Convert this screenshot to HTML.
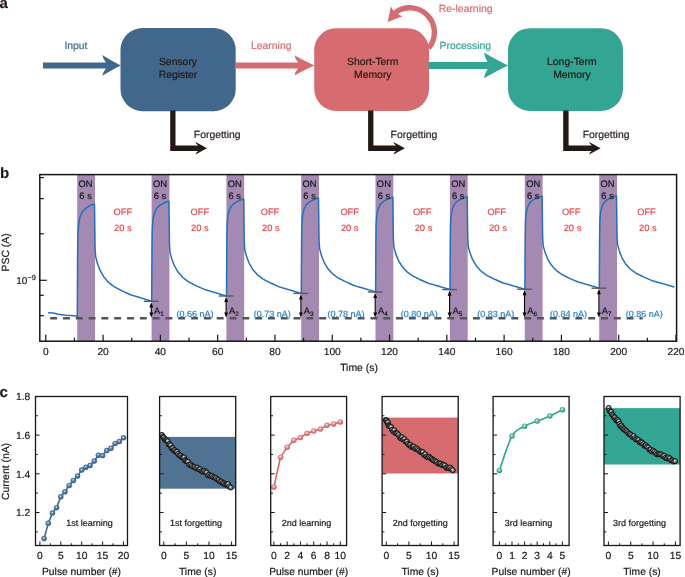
<!DOCTYPE html>
<html><head><meta charset="utf-8"><style>
html,body{margin:0;padding:0;background:#fff;width:685px;height:577px;overflow:hidden}
svg{display:block;will-change:transform}
text{font-family:"Liberation Sans", sans-serif;text-rendering:geometricPrecision;stroke-width:0.18px}
</style></head><body>
<svg width="685" height="577" viewBox="0 0 685 577">
<defs><radialGradient id="gb" cx="0.45" cy="0.4" r="0.6"><stop offset="0" stop-color="#ffffff"/><stop offset="0.35" stop-color="#5a84ae"/><stop offset="1" stop-color="#2a5580"/></radialGradient><radialGradient id="gp" cx="0.45" cy="0.4" r="0.6"><stop offset="0" stop-color="#ffffff"/><stop offset="0.35" stop-color="#e9999c"/><stop offset="1" stop-color="#c4545a"/></radialGradient><radialGradient id="gt" cx="0.45" cy="0.4" r="0.6"><stop offset="0" stop-color="#ffffff"/><stop offset="0.35" stop-color="#6cc6b5"/><stop offset="1" stop-color="#1f8a77"/></radialGradient><radialGradient id="gg" cx="0.45" cy="0.4" r="0.6"><stop offset="0" stop-color="#f4f4f4"/><stop offset="0.35" stop-color="#959595"/><stop offset="1" stop-color="#333333"/></radialGradient></defs>
<text x="-0.60" y="8.20" font-size="15" fill="#231815" stroke="#231815" text-anchor="start" font-weight="bold" >a</text>
<path d="M43.00,62.40 L105.90,62.40 Q103.42,59.68 102.30,55.00 Q113.03,61.66 120.80,65.40 Q113.03,69.14 102.30,75.80 Q103.42,71.12 105.90,68.40 L43.00,68.40 Z" fill="#41678c"/>
<text x="64.40" y="48.80" font-size="10.4" fill="#41678c" stroke="#41678c" text-anchor="start" font-weight="normal" >Input</text>
<rect x="120.5" y="28.0" width="115.19999999999999" height="83.2" rx="22" ry="22" fill="#41678c"/>
<text x="178.00" y="65.40" font-size="10.4" fill="#231815" stroke="#231815" text-anchor="middle" font-weight="normal" >Sensory</text>
<text x="178.00" y="77.90" font-size="10.4" fill="#231815" stroke="#231815" text-anchor="middle" font-weight="normal" >Register</text>
<rect x="314.2" y="28.2" width="114.80000000000001" height="82.7" rx="22" ry="22" fill="#d76c70"/>
<text x="372.80" y="65.40" font-size="10.4" fill="#231815" stroke="#231815" text-anchor="middle" font-weight="normal" >Short-Term</text>
<text x="372.80" y="77.90" font-size="10.4" fill="#231815" stroke="#231815" text-anchor="middle" font-weight="normal" >Memory</text>
<rect x="508.0" y="28.2" width="115.0" height="82.8" rx="22" ry="22" fill="#33a593"/>
<text x="571.90" y="65.40" font-size="10.4" fill="#231815" stroke="#231815" text-anchor="middle" font-weight="normal" >Long-Term</text>
<text x="571.90" y="77.90" font-size="10.4" fill="#231815" stroke="#231815" text-anchor="middle" font-weight="normal" >Memory</text>
<path d="M235.00,62.40 L298.00,62.40 Q295.52,59.85 294.40,55.30 Q306.00,61.76 314.40,65.40 Q306.00,69.04 294.40,75.50 Q295.52,70.96 298.00,68.40 L235.00,68.40 Z" fill="#d76c70"/>
<text x="251.00" y="49.00" font-size="10.4" fill="#d76c70" stroke="#d76c70" text-anchor="start" font-weight="normal" >Learning</text>
<path d="M428.50,62.00 L487.58,62.00 Q485.05,58.36 483.90,52.55 Q497.99,60.81 508.20,65.45 Q497.99,70.09 483.90,78.35 Q485.05,72.55 487.58,68.90 L428.50,68.90 Z" fill="#33a593"/>
<text x="439.60" y="49.00" font-size="10.4" fill="#33a593" stroke="#33a593" text-anchor="start" font-weight="normal" >Processing</text>
<path d="M428.64,48.11 A24.6,24.6 0 0 0 395.34,12.40" fill="none" stroke="#d76c70" stroke-width="5.4"/>
<path d="M387.7,21.9 L390.9,6.4 Q392.5,10 395.5,12.2 Q398.5,14.8 402.5,16.2 Z" fill="#d76c70"/>
<text x="438.80" y="11.60" font-size="10.4" fill="#d76c70" stroke="#d76c70" text-anchor="start" font-weight="normal" >Re-learning</text>
<path d="M170.2,110.5 L175.5,110.5 L175.5,145.50 L198.30,145.50 Q196.38,144.84 195.50,142.05 Q201.82,145.46 207.00,148.25 Q201.82,151.04 195.50,154.45 Q196.38,151.66 198.30,151.00 L170.2,151.00 Z" fill="#231815"/>
<text x="193.80" y="137.80" font-size="10.4" fill="#231815" stroke="#231815" text-anchor="start" font-weight="normal" >Forgetting</text>
<path d="M368.1,110.5 L373.4,110.5 L373.4,145.50 L396.20,145.50 Q394.27,144.84 393.40,142.05 Q399.72,145.46 404.90,148.25 Q399.72,151.04 393.40,154.45 Q394.27,151.66 396.20,151.00 L368.1,151.00 Z" fill="#231815"/>
<text x="390.60" y="137.80" font-size="10.4" fill="#231815" stroke="#231815" text-anchor="start" font-weight="normal" >Forgetting</text>
<path d="M563.2,110.5 L568.6,110.5 L568.6,145.50 L591.90,145.50 Q589.98,144.84 589.10,142.05 Q595.43,145.46 600.60,148.25 Q595.43,151.04 589.10,154.45 Q589.98,151.66 591.90,151.00 L563.2,151.00 Z" fill="#231815"/>
<text x="582.70" y="137.80" font-size="10.4" fill="#231815" stroke="#231815" text-anchor="start" font-weight="normal" >Forgetting</text>
<text x="0.00" y="177.60" font-size="15" fill="#231815" stroke="#231815" text-anchor="start" font-weight="bold" >b</text>
<rect x="77.20" y="174.6" width="17.8" height="166.60" fill="#a48ab3"/>
<rect x="151.60" y="174.6" width="17.8" height="166.60" fill="#a48ab3"/>
<rect x="226.40" y="174.6" width="17.8" height="166.60" fill="#a48ab3"/>
<rect x="301.20" y="174.6" width="17.8" height="166.60" fill="#a48ab3"/>
<rect x="375.50" y="174.6" width="17.8" height="166.60" fill="#a48ab3"/>
<rect x="449.90" y="174.6" width="17.8" height="166.60" fill="#a48ab3"/>
<rect x="524.80" y="174.6" width="17.8" height="166.60" fill="#a48ab3"/>
<rect x="599.20" y="174.6" width="17.8" height="166.60" fill="#a48ab3"/>
<line x1="50.2" y1="318.25" x2="642.6" y2="318.25" stroke="#555555" stroke-width="2.5" stroke-dasharray="6.9 5.91"/>
<path d="M48.20,312.80 L53.30,313.00 L58.40,314.30 L65.50,315.30 L70.70,315.60 L76.30,316.10 L77.30,316.30 L77.59,256.89 L77.87,235.37 L78.16,229.96 L78.45,226.38 L78.73,223.21 L79.02,221.86 L79.31,220.51 L79.59,219.16 L79.88,217.82 L80.16,216.86 L80.45,216.16 L80.74,215.46 L81.02,214.76 L81.31,214.06 L81.60,213.36 L81.88,212.66 L82.17,212.04 L82.46,211.73 L82.74,211.42 L83.03,211.11 L83.32,210.79 L83.60,210.48 L83.89,210.17 L84.17,209.86 L84.46,209.54 L84.75,209.23 L85.03,208.92 L85.32,208.66 L85.61,208.47 L85.89,208.28 L86.18,208.09 L86.47,207.90 L86.75,207.71 L87.04,207.52 L87.33,207.33 L87.61,207.14 L87.90,206.95 L88.19,206.76 L88.47,206.57 L88.76,206.38 L89.04,206.19 L89.33,206.04 L89.62,205.90 L89.90,205.77 L90.19,205.63 L90.48,205.50 L90.76,205.36 L91.05,205.23 L91.34,205.09 L91.62,204.96 L91.91,204.82 L92.20,204.69 L92.48,204.59 L92.77,204.49 L93.05,204.39 L93.34,204.29 L93.63,204.20 L93.91,204.10 L94.20,204.00 L94.49,203.90 L94.49,203.90 L95.06,247.81 L95.63,256.60 L96.21,258.78 L96.78,260.96 L97.35,263.08 L97.92,264.66 L98.50,266.23 L99.07,267.81 L99.64,269.38 L100.22,270.73 L100.79,271.72 L101.36,272.72 L101.93,273.72 L102.51,274.71 L103.08,275.71 L103.65,276.71 L104.23,277.40 L104.80,278.08 L105.37,278.75 L105.95,279.43 L106.52,280.11 L107.09,280.79 L107.66,281.46 L108.24,282.14 L108.81,282.61 L109.38,283.06 L109.96,283.50 L110.53,283.95 L111.10,284.40 L111.67,284.84 L112.25,285.29 L112.82,285.74 L113.39,286.18 L113.97,286.59 L114.54,286.90 L115.11,287.21 L115.68,287.52 L116.26,287.83 L116.83,288.14 L117.40,288.45 L117.98,288.76 L118.55,289.06 L119.12,289.37 L119.69,289.68 L120.27,289.99 L120.84,290.30 L121.41,290.59 L121.99,290.86 L122.56,291.12 L123.13,291.38 L123.70,291.65 L124.28,291.91 L124.85,292.17 L125.42,292.44 L126.00,292.70 L126.57,292.96 L127.14,293.23 L127.72,293.49 L128.29,293.75 L128.86,294.02 L129.43,294.28 L130.01,294.55 L130.58,294.76 L131.15,294.93 L131.73,295.10 L132.30,295.28 L132.87,295.45 L133.44,295.62 L134.02,295.79 L134.59,295.96 L135.16,296.13 L135.74,296.30 L136.31,296.47 L136.88,296.65 L137.45,296.82 L138.03,296.99 L138.60,297.16 L139.17,297.33 L139.75,297.50 L140.32,297.68 L140.89,297.86 L141.46,298.04 L142.04,298.22 L142.61,298.40 L143.18,298.58 L143.76,298.76 L144.33,298.94 L144.90,299.12 L145.48,299.30 L146.05,299.48 L146.62,299.65 L147.19,299.83 L147.77,300.01 L148.34,300.19 L148.91,300.37 L149.49,300.55 L150.06,300.73 L150.63,300.91 L151.20,301.11 L151.78,301.30 L151.70,301.30 L151.99,248.39 L152.27,229.23 L152.56,224.40 L152.85,221.22 L153.13,218.40 L153.42,217.20 L153.71,215.99 L153.99,214.79 L154.28,213.59 L154.56,212.74 L154.85,212.12 L155.14,211.49 L155.42,210.87 L155.71,210.25 L156.00,209.63 L156.28,209.01 L156.57,208.45 L156.86,208.17 L157.14,207.90 L157.43,207.62 L157.72,207.34 L158.00,207.06 L158.29,206.78 L158.57,206.51 L158.86,206.23 L159.15,205.95 L159.43,205.67 L159.72,205.44 L160.01,205.27 L160.29,205.10 L160.58,204.93 L160.87,204.76 L161.15,204.59 L161.44,204.42 L161.73,204.25 L162.01,204.08 L162.30,203.91 L162.59,203.74 L162.87,203.57 L163.16,203.41 L163.44,203.24 L163.73,203.11 L164.02,202.99 L164.30,202.86 L164.59,202.74 L164.88,202.62 L165.16,202.50 L165.45,202.38 L165.74,202.26 L166.02,202.14 L166.31,202.02 L166.60,201.90 L166.88,201.81 L167.17,201.73 L167.45,201.64 L167.74,201.55 L168.03,201.46 L168.31,201.38 L168.60,201.29 L168.89,201.20 L168.89,201.20 L169.46,243.94 L170.03,252.49 L170.61,254.62 L171.18,256.74 L171.75,258.80 L172.32,260.34 L172.90,261.87 L173.47,263.40 L174.04,264.93 L174.62,266.24 L175.19,267.21 L175.76,268.18 L176.33,269.15 L176.91,270.12 L177.48,271.09 L178.05,272.06 L178.63,272.74 L179.20,273.40 L179.77,274.06 L180.34,274.72 L180.92,275.37 L181.49,276.03 L182.06,276.69 L182.64,277.35 L183.21,277.81 L183.78,278.24 L184.36,278.68 L184.93,279.11 L185.50,279.55 L186.07,279.98 L186.65,280.42 L187.22,280.85 L187.79,281.29 L188.37,281.68 L188.94,281.98 L189.51,282.28 L190.08,282.58 L190.66,282.89 L191.23,283.19 L191.80,283.49 L192.38,283.79 L192.95,284.09 L193.52,284.39 L194.09,284.69 L194.67,285.00 L195.24,285.30 L195.81,285.58 L196.39,285.84 L196.96,286.09 L197.53,286.35 L198.10,286.61 L198.68,286.86 L199.25,287.12 L199.82,287.37 L200.40,287.63 L200.97,287.89 L201.54,288.14 L202.12,288.40 L202.69,288.66 L203.26,288.91 L203.83,289.17 L204.41,289.43 L204.98,289.64 L205.55,289.80 L206.13,289.97 L206.70,290.14 L207.27,290.30 L207.84,290.47 L208.42,290.64 L208.99,290.80 L209.56,290.97 L210.14,291.14 L210.71,291.30 L211.28,291.47 L211.85,291.64 L212.43,291.80 L213.00,291.97 L213.57,292.14 L214.15,292.30 L214.72,292.48 L215.29,292.65 L215.86,292.83 L216.44,293.00 L217.01,293.18 L217.58,293.35 L218.16,293.53 L218.73,293.70 L219.30,293.87 L219.88,294.05 L220.45,294.22 L221.02,294.40 L221.59,294.57 L222.17,294.75 L222.74,294.92 L223.31,295.10 L223.89,295.27 L224.46,295.45 L225.03,295.62 L225.60,295.81 L226.18,296.00 L226.50,296.00 L226.79,244.73 L227.07,226.16 L227.36,221.49 L227.65,218.40 L227.93,215.66 L228.22,214.50 L228.51,213.34 L228.79,212.17 L229.08,211.01 L229.36,210.18 L229.65,209.58 L229.94,208.98 L230.22,208.37 L230.51,207.77 L230.80,207.17 L231.08,206.56 L231.37,206.03 L231.66,205.76 L231.94,205.49 L232.23,205.22 L232.52,204.95 L232.80,204.68 L233.09,204.41 L233.37,204.14 L233.66,203.87 L233.95,203.60 L234.23,203.33 L234.52,203.11 L234.81,202.94 L235.09,202.78 L235.38,202.61 L235.67,202.45 L235.95,202.29 L236.24,202.12 L236.53,201.96 L236.81,201.79 L237.10,201.63 L237.39,201.46 L237.67,201.30 L237.96,201.14 L238.24,200.97 L238.53,200.85 L238.82,200.73 L239.10,200.61 L239.39,200.50 L239.68,200.38 L239.96,200.26 L240.25,200.15 L240.54,200.03 L240.82,199.91 L241.11,199.80 L241.40,199.68 L241.68,199.59 L241.97,199.51 L242.25,199.42 L242.54,199.34 L242.83,199.25 L243.11,199.17 L243.40,199.08 L243.69,199.00 L243.69,199.00 L244.26,241.56 L244.83,250.08 L245.41,252.19 L245.98,254.30 L246.55,256.36 L247.12,257.89 L247.70,259.41 L248.27,260.94 L248.84,262.46 L249.42,263.77 L249.99,264.73 L250.56,265.70 L251.13,266.67 L251.71,267.63 L252.28,268.60 L252.85,269.56 L253.43,270.24 L254.00,270.89 L254.57,271.55 L255.14,272.21 L255.72,272.86 L256.29,273.52 L256.86,274.18 L257.44,274.83 L258.01,275.29 L258.58,275.72 L259.16,276.15 L259.73,276.58 L260.30,277.02 L260.87,277.45 L261.45,277.88 L262.02,278.32 L262.59,278.75 L263.17,279.14 L263.74,279.44 L264.31,279.74 L264.88,280.04 L265.46,280.34 L266.03,280.64 L266.60,280.94 L267.18,281.24 L267.75,281.54 L268.32,281.84 L268.89,282.14 L269.47,282.44 L270.04,282.74 L270.61,283.02 L271.19,283.28 L271.76,283.53 L272.33,283.79 L272.90,284.04 L273.48,284.30 L274.05,284.56 L274.62,284.81 L275.20,285.07 L275.77,285.32 L276.34,285.58 L276.92,285.83 L277.49,286.09 L278.06,286.34 L278.63,286.60 L279.21,286.85 L279.78,287.06 L280.35,287.23 L280.93,287.40 L281.50,287.56 L282.07,287.73 L282.64,287.89 L283.22,288.06 L283.79,288.23 L284.36,288.39 L284.94,288.56 L285.51,288.72 L286.08,288.89 L286.65,289.05 L287.23,289.22 L287.80,289.39 L288.37,289.55 L288.95,289.72 L289.52,289.89 L290.09,290.07 L290.66,290.24 L291.24,290.41 L291.81,290.59 L292.38,290.76 L292.96,290.94 L293.53,291.11 L294.10,291.28 L294.68,291.46 L295.25,291.63 L295.82,291.81 L296.39,291.98 L296.97,292.15 L297.54,292.33 L298.11,292.50 L298.69,292.67 L299.26,292.85 L299.83,293.02 L300.40,293.21 L300.98,293.40 L301.30,293.40 L301.59,242.97 L301.87,224.71 L302.16,220.12 L302.45,217.08 L302.73,214.39 L303.02,213.24 L303.31,212.10 L303.59,210.96 L303.88,209.81 L304.16,209.00 L304.45,208.40 L304.74,207.81 L305.02,207.22 L305.31,206.62 L305.60,206.03 L305.88,205.44 L306.17,204.91 L306.46,204.65 L306.74,204.38 L307.03,204.12 L307.32,203.85 L307.60,203.59 L307.89,203.32 L308.17,203.06 L308.46,202.79 L308.75,202.53 L309.03,202.26 L309.32,202.04 L309.61,201.88 L309.89,201.71 L310.18,201.55 L310.47,201.39 L310.75,201.23 L311.04,201.07 L311.33,200.91 L311.61,200.75 L311.90,200.59 L312.19,200.42 L312.47,200.26 L312.76,200.10 L313.04,199.94 L313.33,199.82 L313.62,199.70 L313.90,199.59 L314.19,199.47 L314.48,199.36 L314.76,199.24 L315.05,199.13 L315.34,199.01 L315.62,198.90 L315.91,198.78 L316.20,198.67 L316.48,198.58 L316.77,198.50 L317.05,198.42 L317.34,198.33 L317.63,198.25 L317.91,198.17 L318.20,198.08 L318.49,198.00 L318.49,198.00 L319.06,240.38 L319.63,248.86 L320.21,250.97 L320.78,253.07 L321.35,255.12 L321.92,256.64 L322.50,258.16 L323.07,259.68 L323.64,261.20 L324.22,262.49 L324.79,263.45 L325.36,264.42 L325.93,265.38 L326.51,266.34 L327.08,267.30 L327.65,268.26 L328.23,268.93 L328.80,269.59 L329.37,270.24 L329.94,270.89 L330.52,271.55 L331.09,272.20 L331.66,272.86 L332.24,273.51 L332.81,273.96 L333.38,274.39 L333.96,274.83 L334.53,275.26 L335.10,275.69 L335.67,276.12 L336.25,276.55 L336.82,276.98 L337.39,277.41 L337.97,277.80 L338.54,278.10 L339.11,278.40 L339.68,278.70 L340.26,279.00 L340.83,279.30 L341.40,279.59 L341.98,279.89 L342.55,280.19 L343.12,280.49 L343.69,280.79 L344.27,281.09 L344.84,281.39 L345.41,281.67 L345.99,281.92 L346.56,282.18 L347.13,282.43 L347.70,282.68 L348.28,282.94 L348.85,283.19 L349.42,283.45 L350.00,283.70 L350.57,283.96 L351.14,284.21 L351.72,284.46 L352.29,284.72 L352.86,284.97 L353.43,285.23 L354.01,285.48 L354.58,285.69 L355.15,285.86 L355.73,286.02 L356.30,286.19 L356.87,286.35 L357.44,286.52 L358.02,286.68 L358.59,286.85 L359.16,287.01 L359.74,287.18 L360.31,287.34 L360.88,287.51 L361.45,287.67 L362.03,287.84 L362.60,288.00 L363.17,288.17 L363.75,288.33 L364.32,288.51 L364.89,288.68 L365.46,288.85 L366.04,289.03 L366.61,289.20 L367.18,289.37 L367.76,289.55 L368.33,289.72 L368.90,289.89 L369.48,290.07 L370.05,290.24 L370.62,290.41 L371.19,290.59 L371.77,290.76 L372.34,290.93 L372.91,291.10 L373.49,291.28 L374.06,291.45 L374.63,291.62 L375.20,291.81 L375.78,292.00 L375.60,292.00 L375.89,241.94 L376.17,223.82 L376.46,219.25 L376.75,216.24 L377.03,213.57 L377.32,212.43 L377.61,211.30 L377.89,210.16 L378.18,209.02 L378.46,208.22 L378.75,207.63 L379.04,207.04 L379.32,206.45 L379.61,205.86 L379.90,205.27 L380.18,204.68 L380.47,204.16 L380.76,203.90 L381.04,203.63 L381.33,203.37 L381.62,203.11 L381.90,202.85 L382.19,202.58 L382.47,202.32 L382.76,202.06 L383.05,201.79 L383.33,201.53 L383.62,201.31 L383.91,201.15 L384.19,200.99 L384.48,200.83 L384.77,200.67 L385.05,200.51 L385.34,200.35 L385.63,200.19 L385.91,200.03 L386.20,199.87 L386.49,199.71 L386.77,199.55 L387.06,199.39 L387.34,199.23 L387.63,199.10 L387.92,198.99 L388.20,198.87 L388.49,198.76 L388.78,198.65 L389.06,198.53 L389.35,198.42 L389.64,198.30 L389.92,198.19 L390.21,198.08 L390.50,197.96 L390.78,197.88 L391.07,197.80 L391.35,197.71 L391.64,197.63 L391.93,197.55 L392.21,197.47 L392.50,197.38 L392.79,197.30 L392.79,197.30 L393.36,238.91 L393.93,247.24 L394.51,249.31 L395.08,251.37 L395.65,253.38 L396.22,254.88 L396.80,256.37 L397.37,257.86 L397.94,259.35 L398.52,260.63 L399.09,261.57 L399.66,262.52 L400.23,263.46 L400.81,264.40 L401.38,265.35 L401.95,266.29 L402.53,266.95 L403.10,267.59 L403.67,268.23 L404.25,268.88 L404.82,269.52 L405.39,270.16 L405.96,270.80 L406.54,271.44 L407.11,271.89 L407.68,272.31 L408.26,272.74 L408.83,273.16 L409.40,273.58 L409.97,274.01 L410.55,274.43 L411.12,274.85 L411.69,275.27 L412.27,275.66 L412.84,275.95 L413.41,276.25 L413.98,276.54 L414.56,276.83 L415.13,277.13 L415.70,277.42 L416.28,277.71 L416.85,278.01 L417.42,278.30 L417.99,278.59 L418.57,278.89 L419.14,279.18 L419.71,279.45 L420.29,279.70 L420.86,279.95 L421.43,280.20 L422.00,280.45 L422.58,280.70 L423.15,280.95 L423.72,281.20 L424.30,281.45 L424.87,281.70 L425.44,281.95 L426.02,282.20 L426.59,282.45 L427.16,282.70 L427.73,282.95 L428.31,283.20 L428.88,283.40 L429.45,283.57 L430.03,283.73 L430.60,283.89 L431.17,284.05 L431.74,284.22 L432.32,284.38 L432.89,284.54 L433.46,284.70 L434.04,284.86 L434.61,285.03 L435.18,285.19 L435.75,285.35 L436.33,285.51 L436.90,285.68 L437.47,285.84 L438.05,286.00 L438.62,286.17 L439.19,286.34 L439.76,286.51 L440.34,286.68 L440.91,286.85 L441.48,287.02 L442.06,287.19 L442.63,287.36 L443.20,287.53 L443.78,287.70 L444.35,287.87 L444.92,288.04 L445.49,288.21 L446.07,288.38 L446.64,288.55 L447.21,288.72 L447.79,288.89 L448.36,289.06 L448.93,289.23 L449.50,289.42 L450.08,289.60 L450.00,289.60 L450.29,240.55 L450.57,222.78 L450.86,218.31 L451.15,215.36 L451.43,212.74 L451.72,211.63 L452.01,210.52 L452.29,209.40 L452.58,208.29 L452.86,207.50 L453.15,206.92 L453.44,206.34 L453.72,205.77 L454.01,205.19 L454.30,204.61 L454.58,204.04 L454.87,203.52 L455.16,203.27 L455.44,203.01 L455.73,202.75 L456.02,202.49 L456.30,202.23 L456.59,201.98 L456.87,201.72 L457.16,201.46 L457.45,201.20 L457.73,200.95 L458.02,200.73 L458.31,200.57 L458.59,200.41 L458.88,200.26 L459.17,200.10 L459.45,199.94 L459.74,199.79 L460.03,199.63 L460.31,199.47 L460.60,199.32 L460.89,199.16 L461.17,199.00 L461.46,198.84 L461.74,198.69 L462.03,198.57 L462.32,198.45 L462.60,198.34 L462.89,198.23 L463.18,198.12 L463.46,198.01 L463.75,197.90 L464.04,197.78 L464.32,197.67 L464.61,197.56 L464.90,197.45 L465.18,197.37 L465.47,197.29 L465.75,197.21 L466.04,197.12 L466.33,197.04 L466.61,196.96 L466.90,196.88 L467.19,196.80 L467.19,196.80 L467.76,238.46 L468.33,246.80 L468.91,248.86 L469.48,250.93 L470.05,252.94 L470.62,254.44 L471.20,255.93 L471.77,257.43 L472.34,258.92 L472.92,260.19 L473.49,261.14 L474.06,262.09 L474.63,263.03 L475.21,263.98 L475.78,264.92 L476.35,265.87 L476.93,266.53 L477.50,267.17 L478.07,267.81 L478.64,268.45 L479.22,269.10 L479.79,269.74 L480.36,270.38 L480.94,271.03 L481.51,271.47 L482.08,271.89 L482.66,272.32 L483.23,272.74 L483.80,273.16 L484.37,273.59 L484.95,274.01 L485.52,274.44 L486.09,274.86 L486.67,275.24 L487.24,275.54 L487.81,275.83 L488.38,276.12 L488.96,276.42 L489.53,276.71 L490.10,277.01 L490.68,277.30 L491.25,277.59 L491.82,277.89 L492.39,278.18 L492.97,278.47 L493.54,278.77 L494.11,279.04 L494.69,279.29 L495.26,279.54 L495.83,279.79 L496.40,280.04 L496.98,280.29 L497.55,280.54 L498.12,280.79 L498.70,281.04 L499.27,281.29 L499.84,281.54 L500.42,281.79 L500.99,282.04 L501.56,282.29 L502.13,282.54 L502.71,282.79 L503.28,283.00 L503.85,283.16 L504.43,283.32 L505.00,283.49 L505.57,283.65 L506.14,283.81 L506.72,283.97 L507.29,284.13 L507.86,284.30 L508.44,284.46 L509.01,284.62 L509.58,284.78 L510.15,284.95 L510.73,285.11 L511.30,285.27 L511.87,285.43 L512.45,285.60 L513.02,285.77 L513.59,285.94 L514.16,286.11 L514.74,286.28 L515.31,286.45 L515.88,286.62 L516.46,286.79 L517.03,286.96 L517.60,287.13 L518.18,287.30 L518.75,287.47 L519.32,287.64 L519.89,287.81 L520.47,287.98 L521.04,288.15 L521.61,288.32 L522.19,288.49 L522.76,288.66 L523.33,288.83 L523.90,289.02 L524.48,289.20 L524.90,289.20 L525.19,239.99 L525.47,222.17 L525.76,217.68 L526.05,214.72 L526.33,212.09 L526.62,210.98 L526.91,209.86 L527.19,208.74 L527.48,207.63 L527.76,206.83 L528.05,206.25 L528.34,205.67 L528.62,205.10 L528.91,204.52 L529.20,203.94 L529.48,203.36 L529.77,202.84 L530.06,202.59 L530.34,202.33 L530.63,202.07 L530.92,201.81 L531.20,201.55 L531.49,201.29 L531.77,201.03 L532.06,200.78 L532.35,200.52 L532.63,200.26 L532.92,200.04 L533.21,199.88 L533.49,199.73 L533.78,199.57 L534.07,199.41 L534.35,199.25 L534.64,199.10 L534.93,198.94 L535.21,198.78 L535.50,198.62 L535.79,198.47 L536.07,198.31 L536.36,198.15 L536.64,197.99 L536.93,197.87 L537.22,197.76 L537.50,197.65 L537.79,197.54 L538.08,197.42 L538.36,197.31 L538.65,197.20 L538.94,197.09 L539.22,196.98 L539.51,196.86 L539.80,196.75 L540.08,196.67 L540.37,196.59 L540.65,196.51 L540.94,196.43 L541.23,196.34 L541.51,196.26 L541.80,196.18 L542.09,196.10 L542.09,196.10 L542.66,237.62 L543.23,245.93 L543.81,247.99 L544.38,250.06 L544.95,252.06 L545.52,253.55 L546.10,255.04 L546.67,256.53 L547.24,258.02 L547.82,259.29 L548.39,260.23 L548.96,261.17 L549.53,262.12 L550.11,263.06 L550.68,264.00 L551.25,264.94 L551.83,265.60 L552.40,266.24 L552.97,266.88 L553.54,267.52 L554.12,268.16 L554.69,268.80 L555.26,269.44 L555.84,270.08 L556.41,270.53 L556.98,270.95 L557.56,271.37 L558.13,271.79 L558.70,272.22 L559.27,272.64 L559.85,273.06 L560.42,273.48 L560.99,273.91 L561.57,274.29 L562.14,274.58 L562.71,274.87 L563.28,275.17 L563.86,275.46 L564.43,275.75 L565.00,276.04 L565.58,276.34 L566.15,276.63 L566.72,276.92 L567.29,277.22 L567.87,277.51 L568.44,277.80 L569.01,278.08 L569.59,278.33 L570.16,278.57 L570.73,278.82 L571.30,279.07 L571.88,279.32 L572.45,279.57 L573.02,279.82 L573.60,280.07 L574.17,280.32 L574.74,280.57 L575.32,280.82 L575.89,281.07 L576.46,281.31 L577.03,281.56 L577.61,281.81 L578.18,282.02 L578.75,282.18 L579.33,282.34 L579.90,282.50 L580.47,282.67 L581.04,282.83 L581.62,282.99 L582.19,283.15 L582.76,283.31 L583.34,283.47 L583.91,283.64 L584.48,283.80 L585.05,283.96 L585.63,284.12 L586.20,284.28 L586.77,284.45 L587.35,284.61 L587.92,284.78 L588.49,284.95 L589.06,285.12 L589.64,285.29 L590.21,285.46 L590.78,285.63 L591.36,285.80 L591.93,285.97 L592.50,286.14 L593.08,286.30 L593.65,286.47 L594.22,286.64 L594.79,286.81 L595.37,286.98 L595.94,287.15 L596.51,287.32 L597.09,287.49 L597.66,287.66 L598.23,287.83 L598.80,288.02 L599.38,288.20 L599.30,288.20 L599.59,239.36 L599.87,221.67 L600.16,217.22 L600.45,214.28 L600.73,211.67 L601.02,210.57 L601.31,209.46 L601.59,208.35 L601.88,207.24 L602.16,206.45 L602.45,205.88 L602.74,205.30 L603.02,204.73 L603.31,204.15 L603.60,203.58 L603.88,203.00 L604.17,202.49 L604.46,202.24 L604.74,201.98 L605.03,201.72 L605.32,201.47 L605.60,201.21 L605.89,200.95 L606.17,200.70 L606.46,200.44 L606.75,200.18 L607.03,199.93 L607.32,199.71 L607.61,199.55 L607.89,199.40 L608.18,199.24 L608.47,199.09 L608.75,198.93 L609.04,198.77 L609.33,198.62 L609.61,198.46 L609.90,198.30 L610.19,198.15 L610.47,197.99 L610.76,197.84 L611.04,197.68 L611.33,197.56 L611.62,197.45 L611.90,197.34 L612.19,197.23 L612.48,197.11 L612.76,197.00 L613.05,196.89 L613.34,196.78 L613.62,196.67 L613.91,196.56 L614.20,196.45 L614.48,196.37 L614.77,196.29 L615.05,196.20 L615.34,196.12 L615.63,196.04 L615.91,195.96 L616.20,195.88 L616.49,195.80 L616.49,195.80 L617.06,236.87 L617.63,245.09 L618.21,247.13 L618.78,249.17 L619.35,251.15 L619.92,252.63 L620.50,254.10 L621.07,255.57 L621.64,257.05 L622.22,258.30 L622.79,259.24 L623.36,260.17 L623.93,261.10 L624.51,262.03 L625.08,262.96 L625.65,263.90 L626.23,264.54 L626.80,265.18 L627.37,265.81 L627.95,266.45 L628.52,267.08 L629.09,267.71 L629.66,268.35 L630.24,268.98 L630.81,269.42 L631.38,269.84 L631.96,270.26 L632.53,270.67 L633.10,271.09 L633.67,271.51 L634.25,271.93 L634.82,272.34 L635.39,272.76 L635.97,273.14 L636.54,273.43 L637.11,273.72 L637.68,274.01 L638.26,274.30 L638.83,274.59 L639.40,274.88 L639.98,275.17 L640.55,275.46 L641.12,275.75 L641.69,276.04 L642.27,276.32 L642.84,276.61 L643.41,276.89 L643.99,277.13 L644.56,277.38 L645.13,277.63 L645.70,277.87 L646.28,278.12 L646.85,278.36 L647.42,278.61 L648.00,278.86 L648.57,279.10 L649.14,279.35 L649.72,279.60 L650.29,279.84 L650.86,280.09 L651.43,280.34 L652.01,280.58 L652.58,280.79 L653.15,280.95 L653.73,281.11 L654.30,281.27 L654.87,281.43 L655.44,281.59 L656.02,281.75 L656.59,281.91 L657.16,282.07 L657.74,282.23 L658.31,282.39 L658.88,282.55 L659.45,282.71 L660.03,282.87 L660.60,283.03 L661.17,283.19 L661.75,283.35 L662.32,283.51 L662.89,283.68 L663.46,283.85 L664.04,284.02 L664.61,284.19 L665.18,284.35 L665.76,284.52 L666.33,284.69 L666.90,284.86 L667.48,285.03 L668.05,285.19 L668.62,285.36 L669.19,285.53 L669.77,285.70 L670.34,285.86 L670.91,286.03 L671.49,286.20 L672.06,286.37 L672.63,286.54 L673.20,286.72 L673.78,286.90 L674.30,286.60" fill="none" stroke="#2270bd" stroke-width="1.5" stroke-linejoin="round"/>
<line x1="143.90" y1="301.30" x2="158.60" y2="301.30" stroke="#5a5a5a" stroke-width="1.4"/>
<line x1="151.30" y1="304.30" x2="151.30" y2="314.60" stroke="#000" stroke-width="1.1"/>
<path d="M151.30,302.20 l-1.9,5.2 l3.8,0 Z" fill="#000"/>
<path d="M151.30,317.6 l-1.9,-5.2 l3.8,0 Z" fill="#000"/>
<text x="154.10" y="313.7" font-size="9.4" fill="#161616" stroke="#161616">A<tspan font-size="6.4" dy="2.6">1</tspan></text>
<line x1="218.70" y1="296.00" x2="233.40" y2="296.00" stroke="#5a5a5a" stroke-width="1.4"/>
<line x1="226.10" y1="299.00" x2="226.10" y2="314.60" stroke="#000" stroke-width="1.1"/>
<path d="M226.10,296.90 l-1.9,5.2 l3.8,0 Z" fill="#000"/>
<path d="M226.10,317.6 l-1.9,-5.2 l3.8,0 Z" fill="#000"/>
<text x="228.90" y="313.7" font-size="9.4" fill="#161616" stroke="#161616">A<tspan font-size="6.4" dy="2.6">2</tspan></text>
<line x1="293.50" y1="293.40" x2="308.20" y2="293.40" stroke="#5a5a5a" stroke-width="1.4"/>
<line x1="300.90" y1="296.40" x2="300.90" y2="314.60" stroke="#000" stroke-width="1.1"/>
<path d="M300.90,294.30 l-1.9,5.2 l3.8,0 Z" fill="#000"/>
<path d="M300.90,317.6 l-1.9,-5.2 l3.8,0 Z" fill="#000"/>
<text x="303.70" y="313.7" font-size="9.4" fill="#161616" stroke="#161616">A<tspan font-size="6.4" dy="2.6">3</tspan></text>
<line x1="367.80" y1="292.00" x2="382.50" y2="292.00" stroke="#5a5a5a" stroke-width="1.4"/>
<line x1="375.20" y1="295.00" x2="375.20" y2="314.60" stroke="#000" stroke-width="1.1"/>
<path d="M375.20,292.90 l-1.9,5.2 l3.8,0 Z" fill="#000"/>
<path d="M375.20,317.6 l-1.9,-5.2 l3.8,0 Z" fill="#000"/>
<text x="378.00" y="313.7" font-size="9.4" fill="#161616" stroke="#161616">A<tspan font-size="6.4" dy="2.6">4</tspan></text>
<line x1="442.20" y1="289.60" x2="456.90" y2="289.60" stroke="#5a5a5a" stroke-width="1.4"/>
<line x1="449.60" y1="292.60" x2="449.60" y2="314.60" stroke="#000" stroke-width="1.1"/>
<path d="M449.60,290.50 l-1.9,5.2 l3.8,0 Z" fill="#000"/>
<path d="M449.60,317.6 l-1.9,-5.2 l3.8,0 Z" fill="#000"/>
<text x="452.40" y="313.7" font-size="9.4" fill="#161616" stroke="#161616">A<tspan font-size="6.4" dy="2.6">5</tspan></text>
<line x1="517.10" y1="289.20" x2="531.80" y2="289.20" stroke="#5a5a5a" stroke-width="1.4"/>
<line x1="524.50" y1="292.20" x2="524.50" y2="314.60" stroke="#000" stroke-width="1.1"/>
<path d="M524.50,290.10 l-1.9,5.2 l3.8,0 Z" fill="#000"/>
<path d="M524.50,317.6 l-1.9,-5.2 l3.8,0 Z" fill="#000"/>
<text x="527.30" y="313.7" font-size="9.4" fill="#161616" stroke="#161616">A<tspan font-size="6.4" dy="2.6">6</tspan></text>
<line x1="591.50" y1="288.20" x2="606.20" y2="288.20" stroke="#5a5a5a" stroke-width="1.4"/>
<line x1="598.90" y1="291.20" x2="598.90" y2="314.60" stroke="#000" stroke-width="1.1"/>
<path d="M598.90,289.10 l-1.9,5.2 l3.8,0 Z" fill="#000"/>
<path d="M598.90,317.6 l-1.9,-5.2 l3.8,0 Z" fill="#000"/>
<text x="601.70" y="313.7" font-size="9.4" fill="#161616" stroke="#161616">A<tspan font-size="6.4" dy="2.6">7</tspan></text>
<text x="176.50" y="316.6" font-size="9" fill="#2a7cc0" stroke="#2a7cc0">(0.66 nA)</text>
<text x="253.70" y="316.6" font-size="9" fill="#2a7cc0" stroke="#2a7cc0">(0.73 nA)</text>
<text x="327.60" y="316.6" font-size="9" fill="#2a7cc0" stroke="#2a7cc0">(0.78 nA)</text>
<text x="400.80" y="316.6" font-size="9" fill="#2a7cc0" stroke="#2a7cc0">(0.80 nA)</text>
<text x="477.30" y="316.6" font-size="9" fill="#2a7cc0" stroke="#2a7cc0">(0.83 nA)</text>
<text x="549.90" y="316.6" font-size="9" fill="#2a7cc0" stroke="#2a7cc0">(0.84 nA)</text>
<text x="625.70" y="316.6" font-size="9" fill="#2a7cc0" stroke="#2a7cc0">(0.86 nA)</text>
<text x="85.59" y="187.40" font-size="9.4" fill="#161616" stroke="#161616" text-anchor="middle" font-weight="normal" >ON</text>
<text x="85.59" y="198.70" font-size="9.4" fill="#161616" stroke="#161616" text-anchor="middle" font-weight="normal" >6 s</text>
<text x="122.80" y="215.20" font-size="9.3" fill="#e5454c" stroke="#e5454c" text-anchor="middle" font-weight="normal" >OFF</text>
<text x="122.80" y="231.00" font-size="9.3" fill="#e5454c" stroke="#e5454c" text-anchor="middle" font-weight="normal" >20 s</text>
<text x="159.99" y="187.40" font-size="9.4" fill="#161616" stroke="#161616" text-anchor="middle" font-weight="normal" >ON</text>
<text x="159.99" y="198.70" font-size="9.4" fill="#161616" stroke="#161616" text-anchor="middle" font-weight="normal" >6 s</text>
<text x="199.90" y="215.20" font-size="9.3" fill="#e5454c" stroke="#e5454c" text-anchor="middle" font-weight="normal" >OFF</text>
<text x="199.90" y="231.00" font-size="9.3" fill="#e5454c" stroke="#e5454c" text-anchor="middle" font-weight="normal" >20 s</text>
<text x="234.79" y="187.40" font-size="9.4" fill="#161616" stroke="#161616" text-anchor="middle" font-weight="normal" >ON</text>
<text x="234.79" y="198.70" font-size="9.4" fill="#161616" stroke="#161616" text-anchor="middle" font-weight="normal" >6 s</text>
<text x="270.00" y="215.20" font-size="9.3" fill="#e5454c" stroke="#e5454c" text-anchor="middle" font-weight="normal" >OFF</text>
<text x="270.80" y="231.00" font-size="9.3" fill="#e5454c" stroke="#e5454c" text-anchor="middle" font-weight="normal" >20 s</text>
<text x="309.59" y="187.40" font-size="9.4" fill="#161616" stroke="#161616" text-anchor="middle" font-weight="normal" >ON</text>
<text x="309.59" y="198.70" font-size="9.4" fill="#161616" stroke="#161616" text-anchor="middle" font-weight="normal" >6 s</text>
<text x="349.70" y="215.20" font-size="9.3" fill="#e5454c" stroke="#e5454c" text-anchor="middle" font-weight="normal" >OFF</text>
<text x="349.70" y="231.00" font-size="9.3" fill="#e5454c" stroke="#e5454c" text-anchor="middle" font-weight="normal" >20 s</text>
<text x="383.89" y="187.40" font-size="9.4" fill="#161616" stroke="#161616" text-anchor="middle" font-weight="normal" >ON</text>
<text x="383.89" y="198.70" font-size="9.4" fill="#161616" stroke="#161616" text-anchor="middle" font-weight="normal" >6 s</text>
<text x="422.20" y="215.20" font-size="9.3" fill="#e5454c" stroke="#e5454c" text-anchor="middle" font-weight="normal" >OFF</text>
<text x="423.50" y="231.00" font-size="9.3" fill="#e5454c" stroke="#e5454c" text-anchor="middle" font-weight="normal" >20 s</text>
<text x="458.29" y="187.40" font-size="9.4" fill="#161616" stroke="#161616" text-anchor="middle" font-weight="normal" >ON</text>
<text x="458.29" y="198.70" font-size="9.4" fill="#161616" stroke="#161616" text-anchor="middle" font-weight="normal" >6 s</text>
<text x="496.70" y="215.20" font-size="9.3" fill="#e5454c" stroke="#e5454c" text-anchor="middle" font-weight="normal" >OFF</text>
<text x="498.00" y="231.00" font-size="9.3" fill="#e5454c" stroke="#e5454c" text-anchor="middle" font-weight="normal" >20 s</text>
<text x="533.19" y="187.40" font-size="9.4" fill="#161616" stroke="#161616" text-anchor="middle" font-weight="normal" >ON</text>
<text x="533.19" y="198.70" font-size="9.4" fill="#161616" stroke="#161616" text-anchor="middle" font-weight="normal" >6 s</text>
<text x="571.20" y="215.20" font-size="9.3" fill="#e5454c" stroke="#e5454c" text-anchor="middle" font-weight="normal" >OFF</text>
<text x="572.50" y="231.00" font-size="9.3" fill="#e5454c" stroke="#e5454c" text-anchor="middle" font-weight="normal" >20 s</text>
<text x="607.59" y="187.40" font-size="9.4" fill="#161616" stroke="#161616" text-anchor="middle" font-weight="normal" >ON</text>
<text x="607.59" y="198.70" font-size="9.4" fill="#161616" stroke="#161616" text-anchor="middle" font-weight="normal" >6 s</text>
<text x="646.50" y="215.20" font-size="9.3" fill="#e5454c" stroke="#e5454c" text-anchor="middle" font-weight="normal" >OFF</text>
<text x="647.80" y="231.00" font-size="9.3" fill="#e5454c" stroke="#e5454c" text-anchor="middle" font-weight="normal" >20 s</text>
<rect x="39.8" y="174.6" width="636.8000000000001" height="166.6" fill="none" stroke="#161616" stroke-width="1.5"/>
<line x1="39.8" y1="177.6" x2="43.8" y2="177.6" stroke="#161616" stroke-width="1.2"/>
<line x1="39.8" y1="198.6" x2="43.8" y2="198.6" stroke="#161616" stroke-width="1.2"/>
<line x1="39.8" y1="233.8" x2="43.8" y2="233.8" stroke="#161616" stroke-width="1.2"/>
<line x1="39.8" y1="280.3" x2="46.8" y2="280.3" stroke="#161616" stroke-width="1.2"/>
<line x1="39.8" y1="295.3" x2="43.8" y2="295.3" stroke="#161616" stroke-width="1.2"/>
<line x1="39.8" y1="315.7" x2="43.8" y2="315.7" stroke="#161616" stroke-width="1.2"/>
<line x1="45.80" y1="341.2" x2="45.80" y2="334.7" stroke="#161616" stroke-width="1.2"/>
<text x="45.80" y="355.30" font-size="10.2" fill="#161616" stroke="#161616" text-anchor="middle" font-weight="normal" >0</text>
<line x1="74.44" y1="341.2" x2="74.44" y2="337.7" stroke="#161616" stroke-width="1.2"/>
<line x1="103.09" y1="341.2" x2="103.09" y2="334.7" stroke="#161616" stroke-width="1.2"/>
<text x="103.09" y="355.30" font-size="10.2" fill="#161616" stroke="#161616" text-anchor="middle" font-weight="normal" >20</text>
<line x1="131.74" y1="341.2" x2="131.74" y2="337.7" stroke="#161616" stroke-width="1.2"/>
<line x1="160.38" y1="341.2" x2="160.38" y2="334.7" stroke="#161616" stroke-width="1.2"/>
<text x="160.38" y="355.30" font-size="10.2" fill="#161616" stroke="#161616" text-anchor="middle" font-weight="normal" >40</text>
<line x1="189.02" y1="341.2" x2="189.02" y2="337.7" stroke="#161616" stroke-width="1.2"/>
<line x1="217.67" y1="341.2" x2="217.67" y2="334.7" stroke="#161616" stroke-width="1.2"/>
<text x="217.67" y="355.30" font-size="10.2" fill="#161616" stroke="#161616" text-anchor="middle" font-weight="normal" >60</text>
<line x1="246.31" y1="341.2" x2="246.31" y2="337.7" stroke="#161616" stroke-width="1.2"/>
<line x1="274.96" y1="341.2" x2="274.96" y2="334.7" stroke="#161616" stroke-width="1.2"/>
<text x="274.96" y="355.30" font-size="10.2" fill="#161616" stroke="#161616" text-anchor="middle" font-weight="normal" >80</text>
<line x1="303.61" y1="341.2" x2="303.61" y2="337.7" stroke="#161616" stroke-width="1.2"/>
<line x1="332.25" y1="341.2" x2="332.25" y2="334.7" stroke="#161616" stroke-width="1.2"/>
<text x="332.25" y="355.30" font-size="10.2" fill="#161616" stroke="#161616" text-anchor="middle" font-weight="normal" >100</text>
<line x1="360.90" y1="341.2" x2="360.90" y2="337.7" stroke="#161616" stroke-width="1.2"/>
<line x1="389.54" y1="341.2" x2="389.54" y2="334.7" stroke="#161616" stroke-width="1.2"/>
<text x="389.54" y="355.30" font-size="10.2" fill="#161616" stroke="#161616" text-anchor="middle" font-weight="normal" >120</text>
<line x1="418.19" y1="341.2" x2="418.19" y2="337.7" stroke="#161616" stroke-width="1.2"/>
<line x1="446.83" y1="341.2" x2="446.83" y2="334.7" stroke="#161616" stroke-width="1.2"/>
<text x="446.83" y="355.30" font-size="10.2" fill="#161616" stroke="#161616" text-anchor="middle" font-weight="normal" >140</text>
<line x1="475.48" y1="341.2" x2="475.48" y2="337.7" stroke="#161616" stroke-width="1.2"/>
<line x1="504.12" y1="341.2" x2="504.12" y2="334.7" stroke="#161616" stroke-width="1.2"/>
<text x="504.12" y="355.30" font-size="10.2" fill="#161616" stroke="#161616" text-anchor="middle" font-weight="normal" >160</text>
<line x1="532.76" y1="341.2" x2="532.76" y2="337.7" stroke="#161616" stroke-width="1.2"/>
<line x1="561.41" y1="341.2" x2="561.41" y2="334.7" stroke="#161616" stroke-width="1.2"/>
<text x="561.41" y="355.30" font-size="10.2" fill="#161616" stroke="#161616" text-anchor="middle" font-weight="normal" >180</text>
<line x1="590.05" y1="341.2" x2="590.05" y2="337.7" stroke="#161616" stroke-width="1.2"/>
<line x1="618.70" y1="341.2" x2="618.70" y2="334.7" stroke="#161616" stroke-width="1.2"/>
<text x="618.70" y="355.30" font-size="10.2" fill="#161616" stroke="#161616" text-anchor="middle" font-weight="normal" >200</text>
<line x1="647.34" y1="341.2" x2="647.34" y2="337.7" stroke="#161616" stroke-width="1.2"/>
<line x1="675.99" y1="341.2" x2="675.99" y2="334.7" stroke="#161616" stroke-width="1.2"/>
<text x="675.99" y="355.30" font-size="10.2" fill="#161616" stroke="#161616" text-anchor="middle" font-weight="normal" >220</text>
<text x="359.00" y="370.70" font-size="10.4" fill="#161616" stroke="#161616" text-anchor="middle" font-weight="normal" >Time (s)</text>
<text x="9.3" y="252.4" font-size="10.4" fill="#161616" stroke="#161616" text-anchor="middle" transform="rotate(-90 9.3 252.4)">PSC (A)</text>
<text x="16.3" y="284.3" font-size="10" fill="#161616" stroke="#161616">10<tspan font-size="7.4" dy="-4.3">−9</tspan></text>
<text x="-0.60" y="397.20" font-size="15" fill="#231815" stroke="#231815" text-anchor="start" font-weight="bold" >c</text>
<rect x="159.6" y="436.9" width="76.1" height="51.80000000000001" fill="#507293"/>
<rect x="382.1" y="417.6" width="76.09999999999997" height="55.89999999999998" fill="#d76c70"/>
<rect x="604.0" y="408.1" width="76.10000000000002" height="56.39999999999998" fill="#33a593"/>
<line x1="39.90" y1="545.5" x2="39.90" y2="541.5" stroke="#161616" stroke-width="1"/>
<line x1="50.35" y1="545.5" x2="50.35" y2="543.3" stroke="#161616" stroke-width="1"/>
<line x1="60.80" y1="545.5" x2="60.80" y2="541.5" stroke="#161616" stroke-width="1"/>
<line x1="71.25" y1="545.5" x2="71.25" y2="543.3" stroke="#161616" stroke-width="1"/>
<line x1="81.70" y1="545.5" x2="81.70" y2="541.5" stroke="#161616" stroke-width="1"/>
<line x1="92.15" y1="545.5" x2="92.15" y2="543.3" stroke="#161616" stroke-width="1"/>
<line x1="102.60" y1="545.5" x2="102.60" y2="541.5" stroke="#161616" stroke-width="1"/>
<line x1="113.05" y1="545.5" x2="113.05" y2="543.3" stroke="#161616" stroke-width="1"/>
<line x1="123.50" y1="545.5" x2="123.50" y2="541.5" stroke="#161616" stroke-width="1"/>
<text x="39.90" y="559.10" font-size="10.3" fill="#161616" stroke="#161616" text-anchor="middle" font-weight="normal" >0</text>
<text x="60.80" y="559.10" font-size="10.3" fill="#161616" stroke="#161616" text-anchor="middle" font-weight="normal" >5</text>
<text x="81.70" y="559.10" font-size="10.3" fill="#161616" stroke="#161616" text-anchor="middle" font-weight="normal" >10</text>
<text x="102.60" y="559.10" font-size="10.3" fill="#161616" stroke="#161616" text-anchor="middle" font-weight="normal" >15</text>
<text x="123.50" y="559.10" font-size="10.3" fill="#161616" stroke="#161616" text-anchor="middle" font-weight="normal" >20</text>
<line x1="35.5" y1="531.85" x2="37.8" y2="531.85" stroke="#161616" stroke-width="1"/>
<line x1="35.5" y1="512.50" x2="39.5" y2="512.50" stroke="#161616" stroke-width="1"/>
<line x1="35.5" y1="493.15" x2="37.8" y2="493.15" stroke="#161616" stroke-width="1"/>
<line x1="35.5" y1="473.80" x2="39.5" y2="473.80" stroke="#161616" stroke-width="1"/>
<line x1="35.5" y1="454.45" x2="37.8" y2="454.45" stroke="#161616" stroke-width="1"/>
<line x1="35.5" y1="435.10" x2="39.5" y2="435.10" stroke="#161616" stroke-width="1"/>
<line x1="35.5" y1="415.75" x2="37.8" y2="415.75" stroke="#161616" stroke-width="1"/>
<text x="81.50" y="574.90" font-size="10.3" fill="#161616" stroke="#161616" text-anchor="middle" font-weight="normal" >Pulse number (#)</text>
<text x="89.40" y="526.00" font-size="9" fill="#161616" stroke="#161616" text-anchor="middle" font-weight="normal" >1st learning</text>
<line x1="163.80" y1="545.5" x2="163.80" y2="541.5" stroke="#161616" stroke-width="1"/>
<line x1="175.10" y1="545.5" x2="175.10" y2="543.3" stroke="#161616" stroke-width="1"/>
<line x1="186.40" y1="545.5" x2="186.40" y2="541.5" stroke="#161616" stroke-width="1"/>
<line x1="197.70" y1="545.5" x2="197.70" y2="543.3" stroke="#161616" stroke-width="1"/>
<line x1="209.00" y1="545.5" x2="209.00" y2="541.5" stroke="#161616" stroke-width="1"/>
<line x1="220.30" y1="545.5" x2="220.30" y2="543.3" stroke="#161616" stroke-width="1"/>
<line x1="231.60" y1="545.5" x2="231.60" y2="541.5" stroke="#161616" stroke-width="1"/>
<text x="163.80" y="559.10" font-size="10.3" fill="#161616" stroke="#161616" text-anchor="middle" font-weight="normal" >0</text>
<text x="186.40" y="559.10" font-size="10.3" fill="#161616" stroke="#161616" text-anchor="middle" font-weight="normal" >5</text>
<text x="209.00" y="559.10" font-size="10.3" fill="#161616" stroke="#161616" text-anchor="middle" font-weight="normal" >10</text>
<text x="231.60" y="559.10" font-size="10.3" fill="#161616" stroke="#161616" text-anchor="middle" font-weight="normal" >15</text>
<line x1="159.6" y1="531.85" x2="161.9" y2="531.85" stroke="#161616" stroke-width="1"/>
<line x1="159.6" y1="512.50" x2="163.6" y2="512.50" stroke="#161616" stroke-width="1"/>
<line x1="159.6" y1="493.15" x2="161.9" y2="493.15" stroke="#161616" stroke-width="1"/>
<line x1="159.6" y1="473.80" x2="163.6" y2="473.80" stroke="#161616" stroke-width="1"/>
<line x1="159.6" y1="454.45" x2="161.9" y2="454.45" stroke="#161616" stroke-width="1"/>
<line x1="159.6" y1="435.10" x2="163.6" y2="435.10" stroke="#161616" stroke-width="1"/>
<line x1="159.6" y1="415.75" x2="161.9" y2="415.75" stroke="#161616" stroke-width="1"/>
<text x="197.65" y="574.90" font-size="10.3" fill="#161616" stroke="#161616" text-anchor="middle" font-weight="normal" >Time (s)</text>
<text x="195.90" y="526.00" font-size="9" fill="#161616" stroke="#161616" text-anchor="middle" font-weight="normal" >1st forgetting</text>
<line x1="273.90" y1="545.5" x2="273.90" y2="541.5" stroke="#161616" stroke-width="1"/>
<line x1="280.54" y1="545.5" x2="280.54" y2="543.3" stroke="#161616" stroke-width="1"/>
<line x1="287.18" y1="545.5" x2="287.18" y2="541.5" stroke="#161616" stroke-width="1"/>
<line x1="293.82" y1="545.5" x2="293.82" y2="543.3" stroke="#161616" stroke-width="1"/>
<line x1="300.46" y1="545.5" x2="300.46" y2="541.5" stroke="#161616" stroke-width="1"/>
<line x1="307.10" y1="545.5" x2="307.10" y2="543.3" stroke="#161616" stroke-width="1"/>
<line x1="313.74" y1="545.5" x2="313.74" y2="541.5" stroke="#161616" stroke-width="1"/>
<line x1="320.38" y1="545.5" x2="320.38" y2="543.3" stroke="#161616" stroke-width="1"/>
<line x1="327.02" y1="545.5" x2="327.02" y2="541.5" stroke="#161616" stroke-width="1"/>
<line x1="333.66" y1="545.5" x2="333.66" y2="543.3" stroke="#161616" stroke-width="1"/>
<line x1="340.30" y1="545.5" x2="340.30" y2="541.5" stroke="#161616" stroke-width="1"/>
<text x="273.90" y="559.10" font-size="10.3" fill="#161616" stroke="#161616" text-anchor="middle" font-weight="normal" >0</text>
<text x="287.18" y="559.10" font-size="10.3" fill="#161616" stroke="#161616" text-anchor="middle" font-weight="normal" >2</text>
<text x="300.46" y="559.10" font-size="10.3" fill="#161616" stroke="#161616" text-anchor="middle" font-weight="normal" >4</text>
<text x="313.74" y="559.10" font-size="10.3" fill="#161616" stroke="#161616" text-anchor="middle" font-weight="normal" >6</text>
<text x="327.02" y="559.10" font-size="10.3" fill="#161616" stroke="#161616" text-anchor="middle" font-weight="normal" >8</text>
<text x="340.30" y="559.10" font-size="10.3" fill="#161616" stroke="#161616" text-anchor="middle" font-weight="normal" >10</text>
<line x1="270.7" y1="531.85" x2="273.0" y2="531.85" stroke="#161616" stroke-width="1"/>
<line x1="270.7" y1="512.50" x2="274.7" y2="512.50" stroke="#161616" stroke-width="1"/>
<line x1="270.7" y1="493.15" x2="273.0" y2="493.15" stroke="#161616" stroke-width="1"/>
<line x1="270.7" y1="473.80" x2="274.7" y2="473.80" stroke="#161616" stroke-width="1"/>
<line x1="270.7" y1="454.45" x2="273.0" y2="454.45" stroke="#161616" stroke-width="1"/>
<line x1="270.7" y1="435.10" x2="274.7" y2="435.10" stroke="#161616" stroke-width="1"/>
<line x1="270.7" y1="415.75" x2="273.0" y2="415.75" stroke="#161616" stroke-width="1"/>
<text x="308.65" y="574.90" font-size="10.3" fill="#161616" stroke="#161616" text-anchor="middle" font-weight="normal" >Pulse number (#)</text>
<text x="306.60" y="526.00" font-size="9" fill="#161616" stroke="#161616" text-anchor="middle" font-weight="normal" >2nd learning</text>
<line x1="386.30" y1="545.5" x2="386.30" y2="541.5" stroke="#161616" stroke-width="1"/>
<line x1="397.60" y1="545.5" x2="397.60" y2="543.3" stroke="#161616" stroke-width="1"/>
<line x1="408.90" y1="545.5" x2="408.90" y2="541.5" stroke="#161616" stroke-width="1"/>
<line x1="420.20" y1="545.5" x2="420.20" y2="543.3" stroke="#161616" stroke-width="1"/>
<line x1="431.50" y1="545.5" x2="431.50" y2="541.5" stroke="#161616" stroke-width="1"/>
<line x1="442.80" y1="545.5" x2="442.80" y2="543.3" stroke="#161616" stroke-width="1"/>
<line x1="454.10" y1="545.5" x2="454.10" y2="541.5" stroke="#161616" stroke-width="1"/>
<text x="386.30" y="559.10" font-size="10.3" fill="#161616" stroke="#161616" text-anchor="middle" font-weight="normal" >0</text>
<text x="408.90" y="559.10" font-size="10.3" fill="#161616" stroke="#161616" text-anchor="middle" font-weight="normal" >5</text>
<text x="431.50" y="559.10" font-size="10.3" fill="#161616" stroke="#161616" text-anchor="middle" font-weight="normal" >10</text>
<text x="454.10" y="559.10" font-size="10.3" fill="#161616" stroke="#161616" text-anchor="middle" font-weight="normal" >15</text>
<line x1="382.1" y1="531.85" x2="384.40000000000003" y2="531.85" stroke="#161616" stroke-width="1"/>
<line x1="382.1" y1="512.50" x2="386.1" y2="512.50" stroke="#161616" stroke-width="1"/>
<line x1="382.1" y1="493.15" x2="384.40000000000003" y2="493.15" stroke="#161616" stroke-width="1"/>
<line x1="382.1" y1="473.80" x2="386.1" y2="473.80" stroke="#161616" stroke-width="1"/>
<line x1="382.1" y1="454.45" x2="384.40000000000003" y2="454.45" stroke="#161616" stroke-width="1"/>
<line x1="382.1" y1="435.10" x2="386.1" y2="435.10" stroke="#161616" stroke-width="1"/>
<line x1="382.1" y1="415.75" x2="384.40000000000003" y2="415.75" stroke="#161616" stroke-width="1"/>
<text x="420.15" y="574.90" font-size="10.3" fill="#161616" stroke="#161616" text-anchor="middle" font-weight="normal" >Time (s)</text>
<text x="420.20" y="526.00" font-size="9" fill="#161616" stroke="#161616" text-anchor="middle" font-weight="normal" >2nd forgetting</text>
<line x1="499.40" y1="545.5" x2="499.40" y2="541.5" stroke="#161616" stroke-width="1"/>
<line x1="505.70" y1="545.5" x2="505.70" y2="543.3" stroke="#161616" stroke-width="1"/>
<line x1="512.00" y1="545.5" x2="512.00" y2="541.5" stroke="#161616" stroke-width="1"/>
<line x1="518.30" y1="545.5" x2="518.30" y2="543.3" stroke="#161616" stroke-width="1"/>
<line x1="524.60" y1="545.5" x2="524.60" y2="541.5" stroke="#161616" stroke-width="1"/>
<line x1="530.90" y1="545.5" x2="530.90" y2="543.3" stroke="#161616" stroke-width="1"/>
<line x1="537.20" y1="545.5" x2="537.20" y2="541.5" stroke="#161616" stroke-width="1"/>
<line x1="543.50" y1="545.5" x2="543.50" y2="543.3" stroke="#161616" stroke-width="1"/>
<line x1="549.80" y1="545.5" x2="549.80" y2="541.5" stroke="#161616" stroke-width="1"/>
<line x1="556.10" y1="545.5" x2="556.10" y2="543.3" stroke="#161616" stroke-width="1"/>
<line x1="562.40" y1="545.5" x2="562.40" y2="541.5" stroke="#161616" stroke-width="1"/>
<text x="499.40" y="559.10" font-size="10.3" fill="#161616" stroke="#161616" text-anchor="middle" font-weight="normal" >0</text>
<text x="512.00" y="559.10" font-size="10.3" fill="#161616" stroke="#161616" text-anchor="middle" font-weight="normal" >1</text>
<text x="524.60" y="559.10" font-size="10.3" fill="#161616" stroke="#161616" text-anchor="middle" font-weight="normal" >2</text>
<text x="537.20" y="559.10" font-size="10.3" fill="#161616" stroke="#161616" text-anchor="middle" font-weight="normal" >3</text>
<text x="549.80" y="559.10" font-size="10.3" fill="#161616" stroke="#161616" text-anchor="middle" font-weight="normal" >4</text>
<text x="562.40" y="559.10" font-size="10.3" fill="#161616" stroke="#161616" text-anchor="middle" font-weight="normal" >5</text>
<line x1="493.1" y1="531.85" x2="495.40000000000003" y2="531.85" stroke="#161616" stroke-width="1"/>
<line x1="493.1" y1="512.50" x2="497.1" y2="512.50" stroke="#161616" stroke-width="1"/>
<line x1="493.1" y1="493.15" x2="495.40000000000003" y2="493.15" stroke="#161616" stroke-width="1"/>
<line x1="493.1" y1="473.80" x2="497.1" y2="473.80" stroke="#161616" stroke-width="1"/>
<line x1="493.1" y1="454.45" x2="495.40000000000003" y2="454.45" stroke="#161616" stroke-width="1"/>
<line x1="493.1" y1="435.10" x2="497.1" y2="435.10" stroke="#161616" stroke-width="1"/>
<line x1="493.1" y1="415.75" x2="495.40000000000003" y2="415.75" stroke="#161616" stroke-width="1"/>
<text x="531.10" y="574.90" font-size="10.3" fill="#161616" stroke="#161616" text-anchor="middle" font-weight="normal" >Pulse number (#)</text>
<text x="528.40" y="526.00" font-size="9" fill="#161616" stroke="#161616" text-anchor="middle" font-weight="normal" >3rd learning</text>
<line x1="608.40" y1="545.5" x2="608.40" y2="541.5" stroke="#161616" stroke-width="1"/>
<line x1="619.57" y1="545.5" x2="619.57" y2="543.3" stroke="#161616" stroke-width="1"/>
<line x1="630.75" y1="545.5" x2="630.75" y2="541.5" stroke="#161616" stroke-width="1"/>
<line x1="641.92" y1="545.5" x2="641.92" y2="543.3" stroke="#161616" stroke-width="1"/>
<line x1="653.10" y1="545.5" x2="653.10" y2="541.5" stroke="#161616" stroke-width="1"/>
<line x1="664.27" y1="545.5" x2="664.27" y2="543.3" stroke="#161616" stroke-width="1"/>
<line x1="675.45" y1="545.5" x2="675.45" y2="541.5" stroke="#161616" stroke-width="1"/>
<text x="608.40" y="559.10" font-size="10.3" fill="#161616" stroke="#161616" text-anchor="middle" font-weight="normal" >0</text>
<text x="630.75" y="559.10" font-size="10.3" fill="#161616" stroke="#161616" text-anchor="middle" font-weight="normal" >5</text>
<text x="653.10" y="559.10" font-size="10.3" fill="#161616" stroke="#161616" text-anchor="middle" font-weight="normal" >10</text>
<text x="675.45" y="559.10" font-size="10.3" fill="#161616" stroke="#161616" text-anchor="middle" font-weight="normal" >15</text>
<line x1="604.0" y1="531.85" x2="606.3" y2="531.85" stroke="#161616" stroke-width="1"/>
<line x1="604.0" y1="512.50" x2="608.0" y2="512.50" stroke="#161616" stroke-width="1"/>
<line x1="604.0" y1="493.15" x2="606.3" y2="493.15" stroke="#161616" stroke-width="1"/>
<line x1="604.0" y1="473.80" x2="608.0" y2="473.80" stroke="#161616" stroke-width="1"/>
<line x1="604.0" y1="454.45" x2="606.3" y2="454.45" stroke="#161616" stroke-width="1"/>
<line x1="604.0" y1="435.10" x2="608.0" y2="435.10" stroke="#161616" stroke-width="1"/>
<line x1="604.0" y1="415.75" x2="606.3" y2="415.75" stroke="#161616" stroke-width="1"/>
<text x="642.05" y="574.90" font-size="10.3" fill="#161616" stroke="#161616" text-anchor="middle" font-weight="normal" >Time (s)</text>
<text x="639.60" y="526.00" font-size="9" fill="#161616" stroke="#161616" text-anchor="middle" font-weight="normal" >3rd forgetting</text>
<path d="M44.08,538.62 L48.26,523.34 L52.44,513.08 L56.62,507.66 L60.80,496.83 L64.98,491.70 L69.16,485.41 L73.34,480.38 L77.52,475.93 L81.70,470.12 L85.88,467.22 L90.06,465.48 L94.24,461.03 L98.42,455.22 L102.60,455.61 L106.78,450.58 L110.96,448.26 L115.14,443.42 L119.32,441.49 L123.50,437.81" fill="none" stroke="#3f6a98" stroke-width="1.6" stroke-linejoin="round"/>
<circle cx="44.08" cy="538.62" r="2.75" fill="url(#gb)"/>
<circle cx="48.26" cy="523.34" r="2.75" fill="url(#gb)"/>
<circle cx="52.44" cy="513.08" r="2.75" fill="url(#gb)"/>
<circle cx="56.62" cy="507.66" r="2.75" fill="url(#gb)"/>
<circle cx="60.80" cy="496.83" r="2.75" fill="url(#gb)"/>
<circle cx="64.98" cy="491.70" r="2.75" fill="url(#gb)"/>
<circle cx="69.16" cy="485.41" r="2.75" fill="url(#gb)"/>
<circle cx="73.34" cy="480.38" r="2.75" fill="url(#gb)"/>
<circle cx="77.52" cy="475.93" r="2.75" fill="url(#gb)"/>
<circle cx="81.70" cy="470.12" r="2.75" fill="url(#gb)"/>
<circle cx="85.88" cy="467.22" r="2.75" fill="url(#gb)"/>
<circle cx="90.06" cy="465.48" r="2.75" fill="url(#gb)"/>
<circle cx="94.24" cy="461.03" r="2.75" fill="url(#gb)"/>
<circle cx="98.42" cy="455.22" r="2.75" fill="url(#gb)"/>
<circle cx="102.60" cy="455.61" r="2.75" fill="url(#gb)"/>
<circle cx="106.78" cy="450.58" r="2.75" fill="url(#gb)"/>
<circle cx="110.96" cy="448.26" r="2.75" fill="url(#gb)"/>
<circle cx="115.14" cy="443.42" r="2.75" fill="url(#gb)"/>
<circle cx="119.32" cy="441.49" r="2.75" fill="url(#gb)"/>
<circle cx="123.50" cy="437.81" r="2.75" fill="url(#gb)"/>
<path d="M273.90,486.96 L280.54,457.16 L287.18,447.19 L293.82,440.32 L300.46,437.62 L307.10,433.16 L313.74,431.04 L320.38,429.10 L327.02,425.23 L333.66,423.88 L340.30,421.94" fill="none" stroke="#d9666c" stroke-width="1.6" stroke-linejoin="round"/>
<circle cx="273.90" cy="486.96" r="2.75" fill="url(#gp)"/>
<circle cx="280.54" cy="457.16" r="2.75" fill="url(#gp)"/>
<circle cx="287.18" cy="447.19" r="2.75" fill="url(#gp)"/>
<circle cx="293.82" cy="440.32" r="2.75" fill="url(#gp)"/>
<circle cx="300.46" cy="437.62" r="2.75" fill="url(#gp)"/>
<circle cx="307.10" cy="433.16" r="2.75" fill="url(#gp)"/>
<circle cx="313.74" cy="431.04" r="2.75" fill="url(#gp)"/>
<circle cx="320.38" cy="429.10" r="2.75" fill="url(#gp)"/>
<circle cx="327.02" cy="425.23" r="2.75" fill="url(#gp)"/>
<circle cx="333.66" cy="423.88" r="2.75" fill="url(#gp)"/>
<circle cx="340.30" cy="421.94" r="2.75" fill="url(#gp)"/>
<path d="M499.40,470.50 C501.50,464.77 507.80,443.48 512.00,436.10 C516.20,428.72 520.40,428.70 524.60,426.20 C528.80,423.70 533.00,422.78 537.20,421.10 C541.40,419.42 545.60,417.98 549.80,416.10 C554.00,414.22 560.30,410.85 562.40,409.80" fill="none" stroke="#2ea590" stroke-width="1.6" stroke-linejoin="round"/>
<circle cx="499.40" cy="470.50" r="2.75" fill="url(#gt)"/>
<circle cx="512.00" cy="436.10" r="2.75" fill="url(#gt)"/>
<circle cx="524.60" cy="426.20" r="2.75" fill="url(#gt)"/>
<circle cx="537.20" cy="421.10" r="2.75" fill="url(#gt)"/>
<circle cx="549.80" cy="416.10" r="2.75" fill="url(#gt)"/>
<circle cx="562.40" cy="409.80" r="2.75" fill="url(#gt)"/>
<circle cx="161.80" cy="434.87" r="2.55" fill="url(#gg)" stroke="#0a0a0a" stroke-width="0.8"/>
<circle cx="162.81" cy="436.75" r="2.55" fill="url(#gg)" stroke="#0a0a0a" stroke-width="0.8"/>
<circle cx="163.81" cy="437.48" r="2.55" fill="url(#gg)" stroke="#0a0a0a" stroke-width="0.8"/>
<circle cx="164.82" cy="439.18" r="2.55" fill="url(#gg)" stroke="#0a0a0a" stroke-width="0.8"/>
<circle cx="165.83" cy="440.38" r="2.55" fill="url(#gg)" stroke="#0a0a0a" stroke-width="0.8"/>
<circle cx="166.80" cy="440.21" r="2.55" fill="url(#gg)" stroke="#0a0a0a" stroke-width="0.8"/>
<circle cx="167.74" cy="441.28" r="2.55" fill="url(#gg)" stroke="#0a0a0a" stroke-width="0.8"/>
<circle cx="168.69" cy="444.46" r="2.55" fill="url(#gg)" stroke="#0a0a0a" stroke-width="0.8"/>
<circle cx="169.63" cy="444.26" r="2.55" fill="url(#gg)" stroke="#0a0a0a" stroke-width="0.8"/>
<circle cx="170.58" cy="445.40" r="2.55" fill="url(#gg)" stroke="#0a0a0a" stroke-width="0.8"/>
<circle cx="171.58" cy="448.37" r="2.55" fill="url(#gg)" stroke="#0a0a0a" stroke-width="0.8"/>
<circle cx="172.66" cy="448.19" r="2.55" fill="url(#gg)" stroke="#0a0a0a" stroke-width="0.8"/>
<circle cx="173.74" cy="450.14" r="2.55" fill="url(#gg)" stroke="#0a0a0a" stroke-width="0.8"/>
<circle cx="174.81" cy="450.36" r="2.55" fill="url(#gg)" stroke="#0a0a0a" stroke-width="0.8"/>
<circle cx="175.89" cy="451.83" r="2.55" fill="url(#gg)" stroke="#0a0a0a" stroke-width="0.8"/>
<circle cx="176.97" cy="451.73" r="2.55" fill="url(#gg)" stroke="#0a0a0a" stroke-width="0.8"/>
<circle cx="178.12" cy="453.89" r="2.55" fill="url(#gg)" stroke="#0a0a0a" stroke-width="0.8"/>
<circle cx="179.31" cy="455.40" r="2.55" fill="url(#gg)" stroke="#0a0a0a" stroke-width="0.8"/>
<circle cx="180.50" cy="455.53" r="2.55" fill="url(#gg)" stroke="#0a0a0a" stroke-width="0.8"/>
<circle cx="181.68" cy="457.01" r="2.55" fill="url(#gg)" stroke="#0a0a0a" stroke-width="0.8"/>
<circle cx="182.87" cy="457.80" r="2.55" fill="url(#gg)" stroke="#0a0a0a" stroke-width="0.8"/>
<circle cx="183.97" cy="457.39" r="2.55" fill="url(#gg)" stroke="#0a0a0a" stroke-width="0.8"/>
<circle cx="184.99" cy="460.19" r="2.55" fill="url(#gg)" stroke="#0a0a0a" stroke-width="0.8"/>
<circle cx="186.01" cy="460.92" r="2.55" fill="url(#gg)" stroke="#0a0a0a" stroke-width="0.8"/>
<circle cx="187.02" cy="461.37" r="2.55" fill="url(#gg)" stroke="#0a0a0a" stroke-width="0.8"/>
<circle cx="188.04" cy="461.85" r="2.55" fill="url(#gg)" stroke="#0a0a0a" stroke-width="0.8"/>
<circle cx="189.24" cy="464.75" r="2.55" fill="url(#gg)" stroke="#0a0a0a" stroke-width="0.8"/>
<circle cx="190.60" cy="464.49" r="2.55" fill="url(#gg)" stroke="#0a0a0a" stroke-width="0.8"/>
<circle cx="191.97" cy="465.76" r="2.55" fill="url(#gg)" stroke="#0a0a0a" stroke-width="0.8"/>
<circle cx="193.33" cy="466.82" r="2.55" fill="url(#gg)" stroke="#0a0a0a" stroke-width="0.8"/>
<circle cx="194.69" cy="467.11" r="2.55" fill="url(#gg)" stroke="#0a0a0a" stroke-width="0.8"/>
<circle cx="196.06" cy="468.28" r="2.55" fill="url(#gg)" stroke="#0a0a0a" stroke-width="0.8"/>
<circle cx="197.43" cy="467.69" r="2.55" fill="url(#gg)" stroke="#0a0a0a" stroke-width="0.8"/>
<circle cx="198.79" cy="469.34" r="2.55" fill="url(#gg)" stroke="#0a0a0a" stroke-width="0.8"/>
<circle cx="200.16" cy="469.16" r="2.55" fill="url(#gg)" stroke="#0a0a0a" stroke-width="0.8"/>
<circle cx="201.53" cy="471.01" r="2.55" fill="url(#gg)" stroke="#0a0a0a" stroke-width="0.8"/>
<circle cx="202.84" cy="471.65" r="2.55" fill="url(#gg)" stroke="#0a0a0a" stroke-width="0.8"/>
<circle cx="204.09" cy="470.64" r="2.55" fill="url(#gg)" stroke="#0a0a0a" stroke-width="0.8"/>
<circle cx="205.34" cy="471.60" r="2.55" fill="url(#gg)" stroke="#0a0a0a" stroke-width="0.8"/>
<circle cx="206.59" cy="472.67" r="2.55" fill="url(#gg)" stroke="#0a0a0a" stroke-width="0.8"/>
<circle cx="207.85" cy="475.33" r="2.55" fill="url(#gg)" stroke="#0a0a0a" stroke-width="0.8"/>
<circle cx="209.16" cy="474.83" r="2.55" fill="url(#gg)" stroke="#0a0a0a" stroke-width="0.8"/>
<circle cx="210.51" cy="475.99" r="2.55" fill="url(#gg)" stroke="#0a0a0a" stroke-width="0.8"/>
<circle cx="211.87" cy="475.90" r="2.55" fill="url(#gg)" stroke="#0a0a0a" stroke-width="0.8"/>
<circle cx="213.22" cy="477.09" r="2.55" fill="url(#gg)" stroke="#0a0a0a" stroke-width="0.8"/>
<circle cx="214.58" cy="477.50" r="2.55" fill="url(#gg)" stroke="#0a0a0a" stroke-width="0.8"/>
<circle cx="215.94" cy="478.11" r="2.55" fill="url(#gg)" stroke="#0a0a0a" stroke-width="0.8"/>
<circle cx="217.30" cy="479.35" r="2.55" fill="url(#gg)" stroke="#0a0a0a" stroke-width="0.8"/>
<circle cx="218.66" cy="480.03" r="2.55" fill="url(#gg)" stroke="#0a0a0a" stroke-width="0.8"/>
<circle cx="220.03" cy="481.48" r="2.55" fill="url(#gg)" stroke="#0a0a0a" stroke-width="0.8"/>
<circle cx="221.39" cy="481.63" r="2.55" fill="url(#gg)" stroke="#0a0a0a" stroke-width="0.8"/>
<circle cx="222.75" cy="482.91" r="2.55" fill="url(#gg)" stroke="#0a0a0a" stroke-width="0.8"/>
<circle cx="224.09" cy="483.46" r="2.55" fill="url(#gg)" stroke="#0a0a0a" stroke-width="0.8"/>
<circle cx="225.41" cy="484.55" r="2.55" fill="url(#gg)" stroke="#0a0a0a" stroke-width="0.8"/>
<circle cx="226.73" cy="484.54" r="2.55" fill="url(#gg)" stroke="#0a0a0a" stroke-width="0.8"/>
<circle cx="228.06" cy="484.08" r="2.55" fill="url(#gg)" stroke="#0a0a0a" stroke-width="0.8"/>
<circle cx="229.38" cy="486.51" r="2.55" fill="url(#gg)" stroke="#0a0a0a" stroke-width="0.8"/>
<circle cx="230.70" cy="487.52" r="2.55" fill="url(#gg)" stroke="#0a0a0a" stroke-width="0.8"/>
<circle cx="385.90" cy="419.97" r="2.55" fill="url(#gg)" stroke="#0a0a0a" stroke-width="0.8"/>
<circle cx="386.54" cy="420.52" r="2.55" fill="url(#gg)" stroke="#0a0a0a" stroke-width="0.8"/>
<circle cx="387.18" cy="422.23" r="2.55" fill="url(#gg)" stroke="#0a0a0a" stroke-width="0.8"/>
<circle cx="387.82" cy="422.38" r="2.55" fill="url(#gg)" stroke="#0a0a0a" stroke-width="0.8"/>
<circle cx="388.47" cy="425.23" r="2.55" fill="url(#gg)" stroke="#0a0a0a" stroke-width="0.8"/>
<circle cx="389.11" cy="425.97" r="2.55" fill="url(#gg)" stroke="#0a0a0a" stroke-width="0.8"/>
<circle cx="390.04" cy="426.43" r="2.55" fill="url(#gg)" stroke="#0a0a0a" stroke-width="0.8"/>
<circle cx="391.11" cy="426.96" r="2.55" fill="url(#gg)" stroke="#0a0a0a" stroke-width="0.8"/>
<circle cx="392.17" cy="429.92" r="2.55" fill="url(#gg)" stroke="#0a0a0a" stroke-width="0.8"/>
<circle cx="393.23" cy="431.31" r="2.55" fill="url(#gg)" stroke="#0a0a0a" stroke-width="0.8"/>
<circle cx="394.29" cy="430.21" r="2.55" fill="url(#gg)" stroke="#0a0a0a" stroke-width="0.8"/>
<circle cx="395.36" cy="432.98" r="2.55" fill="url(#gg)" stroke="#0a0a0a" stroke-width="0.8"/>
<circle cx="396.42" cy="433.10" r="2.55" fill="url(#gg)" stroke="#0a0a0a" stroke-width="0.8"/>
<circle cx="397.48" cy="433.54" r="2.55" fill="url(#gg)" stroke="#0a0a0a" stroke-width="0.8"/>
<circle cx="398.54" cy="434.95" r="2.55" fill="url(#gg)" stroke="#0a0a0a" stroke-width="0.8"/>
<circle cx="399.60" cy="437.15" r="2.55" fill="url(#gg)" stroke="#0a0a0a" stroke-width="0.8"/>
<circle cx="400.78" cy="438.33" r="2.55" fill="url(#gg)" stroke="#0a0a0a" stroke-width="0.8"/>
<circle cx="401.98" cy="437.24" r="2.55" fill="url(#gg)" stroke="#0a0a0a" stroke-width="0.8"/>
<circle cx="403.18" cy="439.51" r="2.55" fill="url(#gg)" stroke="#0a0a0a" stroke-width="0.8"/>
<circle cx="404.39" cy="439.05" r="2.55" fill="url(#gg)" stroke="#0a0a0a" stroke-width="0.8"/>
<circle cx="405.59" cy="441.57" r="2.55" fill="url(#gg)" stroke="#0a0a0a" stroke-width="0.8"/>
<circle cx="406.79" cy="441.54" r="2.55" fill="url(#gg)" stroke="#0a0a0a" stroke-width="0.8"/>
<circle cx="407.97" cy="443.79" r="2.55" fill="url(#gg)" stroke="#0a0a0a" stroke-width="0.8"/>
<circle cx="409.12" cy="445.00" r="2.55" fill="url(#gg)" stroke="#0a0a0a" stroke-width="0.8"/>
<circle cx="410.26" cy="444.83" r="2.55" fill="url(#gg)" stroke="#0a0a0a" stroke-width="0.8"/>
<circle cx="411.41" cy="446.98" r="2.55" fill="url(#gg)" stroke="#0a0a0a" stroke-width="0.8"/>
<circle cx="412.56" cy="446.29" r="2.55" fill="url(#gg)" stroke="#0a0a0a" stroke-width="0.8"/>
<circle cx="413.78" cy="446.61" r="2.55" fill="url(#gg)" stroke="#0a0a0a" stroke-width="0.8"/>
<circle cx="415.05" cy="448.66" r="2.55" fill="url(#gg)" stroke="#0a0a0a" stroke-width="0.8"/>
<circle cx="416.33" cy="448.09" r="2.55" fill="url(#gg)" stroke="#0a0a0a" stroke-width="0.8"/>
<circle cx="417.60" cy="449.28" r="2.55" fill="url(#gg)" stroke="#0a0a0a" stroke-width="0.8"/>
<circle cx="418.88" cy="450.58" r="2.55" fill="url(#gg)" stroke="#0a0a0a" stroke-width="0.8"/>
<circle cx="420.15" cy="451.86" r="2.55" fill="url(#gg)" stroke="#0a0a0a" stroke-width="0.8"/>
<circle cx="421.43" cy="451.56" r="2.55" fill="url(#gg)" stroke="#0a0a0a" stroke-width="0.8"/>
<circle cx="422.71" cy="452.08" r="2.55" fill="url(#gg)" stroke="#0a0a0a" stroke-width="0.8"/>
<circle cx="423.99" cy="454.85" r="2.55" fill="url(#gg)" stroke="#0a0a0a" stroke-width="0.8"/>
<circle cx="425.26" cy="454.31" r="2.55" fill="url(#gg)" stroke="#0a0a0a" stroke-width="0.8"/>
<circle cx="426.54" cy="456.65" r="2.55" fill="url(#gg)" stroke="#0a0a0a" stroke-width="0.8"/>
<circle cx="427.82" cy="457.29" r="2.55" fill="url(#gg)" stroke="#0a0a0a" stroke-width="0.8"/>
<circle cx="429.09" cy="456.84" r="2.55" fill="url(#gg)" stroke="#0a0a0a" stroke-width="0.8"/>
<circle cx="430.36" cy="457.85" r="2.55" fill="url(#gg)" stroke="#0a0a0a" stroke-width="0.8"/>
<circle cx="431.63" cy="458.79" r="2.55" fill="url(#gg)" stroke="#0a0a0a" stroke-width="0.8"/>
<circle cx="432.90" cy="459.89" r="2.55" fill="url(#gg)" stroke="#0a0a0a" stroke-width="0.8"/>
<circle cx="434.17" cy="460.58" r="2.55" fill="url(#gg)" stroke="#0a0a0a" stroke-width="0.8"/>
<circle cx="435.44" cy="461.29" r="2.55" fill="url(#gg)" stroke="#0a0a0a" stroke-width="0.8"/>
<circle cx="436.76" cy="462.17" r="2.55" fill="url(#gg)" stroke="#0a0a0a" stroke-width="0.8"/>
<circle cx="438.10" cy="463.61" r="2.55" fill="url(#gg)" stroke="#0a0a0a" stroke-width="0.8"/>
<circle cx="439.44" cy="463.24" r="2.55" fill="url(#gg)" stroke="#0a0a0a" stroke-width="0.8"/>
<circle cx="440.79" cy="463.73" r="2.55" fill="url(#gg)" stroke="#0a0a0a" stroke-width="0.8"/>
<circle cx="442.13" cy="465.09" r="2.55" fill="url(#gg)" stroke="#0a0a0a" stroke-width="0.8"/>
<circle cx="443.47" cy="464.61" r="2.55" fill="url(#gg)" stroke="#0a0a0a" stroke-width="0.8"/>
<circle cx="444.81" cy="465.45" r="2.55" fill="url(#gg)" stroke="#0a0a0a" stroke-width="0.8"/>
<circle cx="446.14" cy="467.77" r="2.55" fill="url(#gg)" stroke="#0a0a0a" stroke-width="0.8"/>
<circle cx="447.47" cy="467.37" r="2.55" fill="url(#gg)" stroke="#0a0a0a" stroke-width="0.8"/>
<circle cx="448.80" cy="468.13" r="2.55" fill="url(#gg)" stroke="#0a0a0a" stroke-width="0.8"/>
<circle cx="450.14" cy="467.54" r="2.55" fill="url(#gg)" stroke="#0a0a0a" stroke-width="0.8"/>
<circle cx="451.47" cy="469.20" r="2.55" fill="url(#gg)" stroke="#0a0a0a" stroke-width="0.8"/>
<circle cx="452.80" cy="470.29" r="2.55" fill="url(#gg)" stroke="#0a0a0a" stroke-width="0.8"/>
<circle cx="608.70" cy="407.95" r="2.55" fill="url(#gg)" stroke="#0a0a0a" stroke-width="0.8"/>
<circle cx="609.54" cy="410.64" r="2.55" fill="url(#gg)" stroke="#0a0a0a" stroke-width="0.8"/>
<circle cx="610.38" cy="411.93" r="2.55" fill="url(#gg)" stroke="#0a0a0a" stroke-width="0.8"/>
<circle cx="611.22" cy="411.82" r="2.55" fill="url(#gg)" stroke="#0a0a0a" stroke-width="0.8"/>
<circle cx="612.06" cy="414.44" r="2.55" fill="url(#gg)" stroke="#0a0a0a" stroke-width="0.8"/>
<circle cx="612.90" cy="415.31" r="2.55" fill="url(#gg)" stroke="#0a0a0a" stroke-width="0.8"/>
<circle cx="613.83" cy="417.01" r="2.55" fill="url(#gg)" stroke="#0a0a0a" stroke-width="0.8"/>
<circle cx="614.79" cy="417.39" r="2.55" fill="url(#gg)" stroke="#0a0a0a" stroke-width="0.8"/>
<circle cx="615.76" cy="419.41" r="2.55" fill="url(#gg)" stroke="#0a0a0a" stroke-width="0.8"/>
<circle cx="616.72" cy="420.65" r="2.55" fill="url(#gg)" stroke="#0a0a0a" stroke-width="0.8"/>
<circle cx="617.69" cy="420.10" r="2.55" fill="url(#gg)" stroke="#0a0a0a" stroke-width="0.8"/>
<circle cx="618.61" cy="421.39" r="2.55" fill="url(#gg)" stroke="#0a0a0a" stroke-width="0.8"/>
<circle cx="619.51" cy="424.08" r="2.55" fill="url(#gg)" stroke="#0a0a0a" stroke-width="0.8"/>
<circle cx="620.42" cy="425.97" r="2.55" fill="url(#gg)" stroke="#0a0a0a" stroke-width="0.8"/>
<circle cx="621.33" cy="425.48" r="2.55" fill="url(#gg)" stroke="#0a0a0a" stroke-width="0.8"/>
<circle cx="622.24" cy="427.18" r="2.55" fill="url(#gg)" stroke="#0a0a0a" stroke-width="0.8"/>
<circle cx="623.15" cy="428.72" r="2.55" fill="url(#gg)" stroke="#0a0a0a" stroke-width="0.8"/>
<circle cx="624.17" cy="429.16" r="2.55" fill="url(#gg)" stroke="#0a0a0a" stroke-width="0.8"/>
<circle cx="625.33" cy="430.24" r="2.55" fill="url(#gg)" stroke="#0a0a0a" stroke-width="0.8"/>
<circle cx="626.48" cy="431.10" r="2.55" fill="url(#gg)" stroke="#0a0a0a" stroke-width="0.8"/>
<circle cx="627.63" cy="432.22" r="2.55" fill="url(#gg)" stroke="#0a0a0a" stroke-width="0.8"/>
<circle cx="628.78" cy="433.74" r="2.55" fill="url(#gg)" stroke="#0a0a0a" stroke-width="0.8"/>
<circle cx="629.94" cy="434.01" r="2.55" fill="url(#gg)" stroke="#0a0a0a" stroke-width="0.8"/>
<circle cx="631.14" cy="435.11" r="2.55" fill="url(#gg)" stroke="#0a0a0a" stroke-width="0.8"/>
<circle cx="632.37" cy="436.94" r="2.55" fill="url(#gg)" stroke="#0a0a0a" stroke-width="0.8"/>
<circle cx="633.60" cy="436.03" r="2.55" fill="url(#gg)" stroke="#0a0a0a" stroke-width="0.8"/>
<circle cx="634.83" cy="438.21" r="2.55" fill="url(#gg)" stroke="#0a0a0a" stroke-width="0.8"/>
<circle cx="636.06" cy="439.49" r="2.55" fill="url(#gg)" stroke="#0a0a0a" stroke-width="0.8"/>
<circle cx="637.28" cy="439.36" r="2.55" fill="url(#gg)" stroke="#0a0a0a" stroke-width="0.8"/>
<circle cx="638.49" cy="440.05" r="2.55" fill="url(#gg)" stroke="#0a0a0a" stroke-width="0.8"/>
<circle cx="639.70" cy="442.36" r="2.55" fill="url(#gg)" stroke="#0a0a0a" stroke-width="0.8"/>
<circle cx="640.91" cy="441.91" r="2.55" fill="url(#gg)" stroke="#0a0a0a" stroke-width="0.8"/>
<circle cx="642.12" cy="442.69" r="2.55" fill="url(#gg)" stroke="#0a0a0a" stroke-width="0.8"/>
<circle cx="643.33" cy="444.20" r="2.55" fill="url(#gg)" stroke="#0a0a0a" stroke-width="0.8"/>
<circle cx="644.54" cy="445.73" r="2.55" fill="url(#gg)" stroke="#0a0a0a" stroke-width="0.8"/>
<circle cx="645.75" cy="445.21" r="2.55" fill="url(#gg)" stroke="#0a0a0a" stroke-width="0.8"/>
<circle cx="646.97" cy="446.65" r="2.55" fill="url(#gg)" stroke="#0a0a0a" stroke-width="0.8"/>
<circle cx="648.18" cy="447.58" r="2.55" fill="url(#gg)" stroke="#0a0a0a" stroke-width="0.8"/>
<circle cx="649.39" cy="449.69" r="2.55" fill="url(#gg)" stroke="#0a0a0a" stroke-width="0.8"/>
<circle cx="650.60" cy="449.65" r="2.55" fill="url(#gg)" stroke="#0a0a0a" stroke-width="0.8"/>
<circle cx="651.81" cy="451.56" r="2.55" fill="url(#gg)" stroke="#0a0a0a" stroke-width="0.8"/>
<circle cx="653.11" cy="450.66" r="2.55" fill="url(#gg)" stroke="#0a0a0a" stroke-width="0.8"/>
<circle cx="654.46" cy="451.74" r="2.55" fill="url(#gg)" stroke="#0a0a0a" stroke-width="0.8"/>
<circle cx="655.82" cy="453.17" r="2.55" fill="url(#gg)" stroke="#0a0a0a" stroke-width="0.8"/>
<circle cx="657.17" cy="454.41" r="2.55" fill="url(#gg)" stroke="#0a0a0a" stroke-width="0.8"/>
<circle cx="658.52" cy="454.04" r="2.55" fill="url(#gg)" stroke="#0a0a0a" stroke-width="0.8"/>
<circle cx="659.88" cy="454.17" r="2.55" fill="url(#gg)" stroke="#0a0a0a" stroke-width="0.8"/>
<circle cx="661.30" cy="454.45" r="2.55" fill="url(#gg)" stroke="#0a0a0a" stroke-width="0.8"/>
<circle cx="662.71" cy="455.97" r="2.55" fill="url(#gg)" stroke="#0a0a0a" stroke-width="0.8"/>
<circle cx="664.13" cy="455.69" r="2.55" fill="url(#gg)" stroke="#0a0a0a" stroke-width="0.8"/>
<circle cx="665.54" cy="457.70" r="2.55" fill="url(#gg)" stroke="#0a0a0a" stroke-width="0.8"/>
<circle cx="666.96" cy="458.31" r="2.55" fill="url(#gg)" stroke="#0a0a0a" stroke-width="0.8"/>
<circle cx="668.34" cy="457.36" r="2.55" fill="url(#gg)" stroke="#0a0a0a" stroke-width="0.8"/>
<circle cx="669.69" cy="458.26" r="2.55" fill="url(#gg)" stroke="#0a0a0a" stroke-width="0.8"/>
<circle cx="671.04" cy="460.21" r="2.55" fill="url(#gg)" stroke="#0a0a0a" stroke-width="0.8"/>
<circle cx="672.39" cy="460.49" r="2.55" fill="url(#gg)" stroke="#0a0a0a" stroke-width="0.8"/>
<circle cx="673.75" cy="461.56" r="2.55" fill="url(#gg)" stroke="#0a0a0a" stroke-width="0.8"/>
<circle cx="675.10" cy="461.13" r="2.55" fill="url(#gg)" stroke="#0a0a0a" stroke-width="0.8"/>
<rect x="35.5" y="396.5" width="92.0" height="149.0" fill="none" stroke="#161616" stroke-width="1.3"/>
<rect x="159.6" y="396.5" width="76.1" height="149.0" fill="none" stroke="#161616" stroke-width="1.3"/>
<rect x="270.7" y="396.5" width="75.90000000000003" height="149.0" fill="none" stroke="#161616" stroke-width="1.3"/>
<rect x="382.1" y="396.5" width="76.09999999999997" height="149.0" fill="none" stroke="#161616" stroke-width="1.3"/>
<rect x="493.1" y="396.5" width="76.0" height="149.0" fill="none" stroke="#161616" stroke-width="1.3"/>
<rect x="604.0" y="396.5" width="76.10000000000002" height="149.0" fill="none" stroke="#161616" stroke-width="1.3"/>
<text x="30.30" y="400.10" font-size="10.3" fill="#161616" stroke="#161616" text-anchor="end" font-weight="normal" >1.8</text>
<text x="30.30" y="438.80" font-size="10.3" fill="#161616" stroke="#161616" text-anchor="end" font-weight="normal" >1.6</text>
<text x="30.30" y="477.50" font-size="10.3" fill="#161616" stroke="#161616" text-anchor="end" font-weight="normal" >1.4</text>
<text x="30.30" y="516.20" font-size="10.3" fill="#161616" stroke="#161616" text-anchor="end" font-weight="normal" >1.2</text>
<text x="9.3" y="471.5" font-size="10.4" fill="#161616" stroke="#161616" text-anchor="middle" transform="rotate(-90 9.3 471.5)">Current (nA)</text>
</svg>
</body></html>
